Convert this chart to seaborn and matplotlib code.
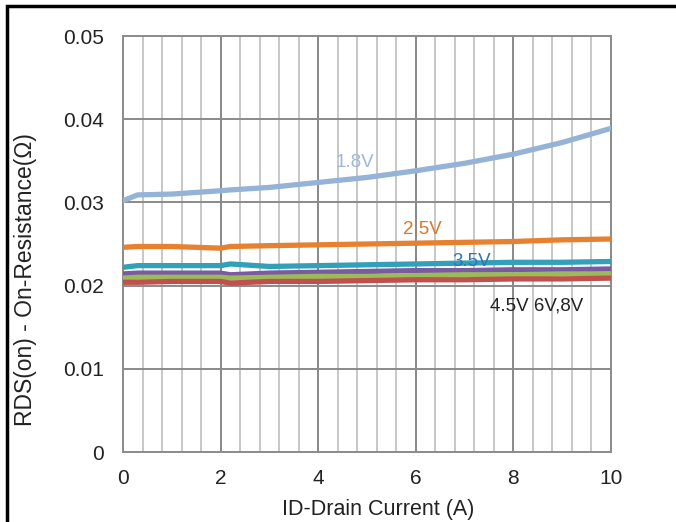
import matplotlib
matplotlib.use("Agg")
import matplotlib.pyplot as plt
from matplotlib.patches import Rectangle
import seaborn as sns
import pandas as pd
import numpy as np

# ---- data ----
current_a = [0, 0.3, 1, 2, 2.2, 3, 4, 5, 6, 7, 8, 9, 10]
rds_1v8 = [0.0302, 0.0309, 0.0310, 0.0314, 0.0315, 0.0318, 0.0324, 0.0330, 0.0338, 0.0347, 0.0358, 0.0372, 0.0389]
rds_2v5 = [0.0246, 0.0247, 0.0247, 0.0245, 0.0247, 0.0248, 0.0249, 0.0250, 0.0251, 0.0252, 0.0253, 0.0255, 0.0256]
rds_3v5 = [0.0222, 0.0224, 0.0224, 0.0224, 0.0226, 0.0223, 0.0224, 0.0225, 0.0226, 0.0227, 0.0228, 0.0228, 0.0229]
rds_4v5 = [0.0214, 0.0215, 0.0215, 0.0215, 0.0213, 0.0215, 0.0216, 0.0217, 0.0218, 0.0218, 0.0219, 0.0219, 0.0220]
rds_6v = [0.0209, 0.0210, 0.0210, 0.0210, 0.0209, 0.0210, 0.0211, 0.0211, 0.0212, 0.0213, 0.0213, 0.0214, 0.0214]
rds_8v = [0.0204, 0.0204, 0.0205, 0.0205, 0.0203, 0.0205, 0.0205, 0.0206, 0.0207, 0.0207, 0.0208, 0.0208, 0.0209]
series_names = ["1.8V", "2.5V", "3.5V", "4.5V", "6V", "8V"]
series_colors = ["#95B3D7", "#E8812F", "#31A0B8", "#7A5BA0", "#9BBB59", "#C0504D"]
y_ticks = [0, 0.01, 0.02, 0.03, 0.04, 0.05]
y_tick_labels = ["0", "0.01", "0.02", "0.03", "0.04", "0.05"]
x_ticks = [0, 2, 4, 6, 8, 10]

all_series = [rds_1v8, rds_2v5, rds_3v5, rds_4v5, rds_6v, rds_8v]
df = pd.concat(
    [pd.DataFrame({"I": current_a, "R": vals, "Vgs": name}) for name, vals in zip(series_names, all_series)],
    ignore_index=True,
)

sns.set_theme(style="white")
plt.rcParams["font.family"] = ["Liberation Sans", "DejaVu Sans"]

fig = plt.figure(figsize=(6.76, 5.22), dpi=100)
ax = fig.add_axes([123 / 676, 1 - 452 / 522, (611 - 123) / 676, (452 - 36) / 522])

# grid
for xv in np.arange(0.4, 10, 0.4):
    ax.axvline(xv, color="#BDBDBD", lw=1.2, zorder=0)
for xv in [2, 4, 6, 8]:
    ax.axvline(xv, color="#8A8A8A", lw=1.4, zorder=0)
for yv in [0.01, 0.02, 0.03, 0.04]:
    ax.axhline(yv, color="#8A8A8A", lw=1.4, zorder=0)

sns.lineplot(data=df, x="I", y="R", hue="Vgs", palette=series_colors, hue_order=series_names,
             linewidth=3.8, legend=False, ax=ax, zorder=3)
ax.set_xlim(0, 10)
ax.set_ylim(0, 0.05)
ax.set_xticks(x_ticks)
ax.set_xticklabels([str(v) for v in x_ticks], fontsize=15)
ax.set_yticks(y_ticks)
ax.set_yticklabels(y_tick_labels, fontsize=15)
ax.tick_params(axis="both", length=0, colors="#222222")
ax.tick_params(axis="x", pad=12)
ax.tick_params(axis="y", pad=14)
for s in ax.spines.values():
    s.set_color("#8A8A8A")
    s.set_linewidth(1.4)
ax.set_xlabel("ID-Drain Current (A)", fontsize=15.5, color="#222222")
ax.set_ylabel("RDS(on) - On-Resistance(Ω)", fontsize=16.5, color="#222222")
ax.xaxis.set_label_coords((378 - 123) / 488, (452 - 510) / 416)
ax.xaxis.label.set_va("center")
ax.yaxis.set_label_coords((25 - 123) / 488, (452 - 280) / 416)
ax.yaxis.label.set_va("center")

# curve labels
ax.text(4.75, 0.0348, "1.8V", color="#9DB8DA", fontsize=13.5, ha="center", va="center", zorder=5)
ax.text(6.13, 0.0267, "2.5V", color="#D9782B", fontsize=13.5, ha="center", va="center", zorder=5)
ax.text(7.15, 0.0229, "3.5V", color="#2E75B6", fontsize=13.5, ha="center", va="center", zorder=5)
ax.text(8.48, 0.0175, "4.5V 6V,8V", color="#222222", fontsize=13.5, ha="center", va="center", zorder=5)

# outer frame of the source figure
fig.patches.append(Rectangle((7 / 676, -0.05), 1.2, 1 - 6 / 522 + 0.05, transform=fig.transFigure,
                             fill=False, edgecolor="black", linewidth=2.5, figure=fig))

fig.savefig("out.png", dpi=100, facecolor="white")
